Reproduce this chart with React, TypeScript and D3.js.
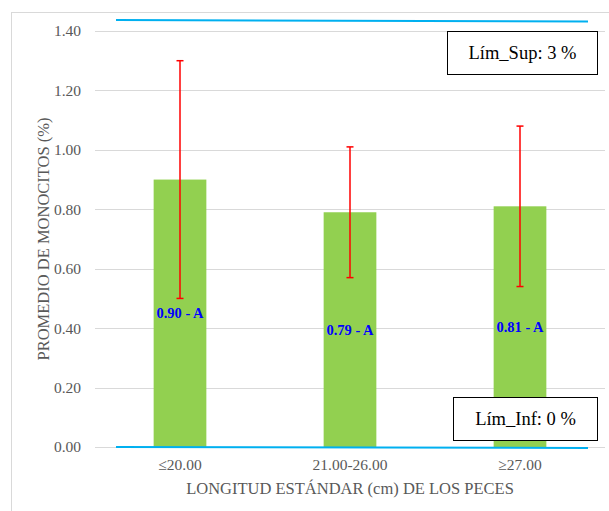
import React from "react";
import * as d3 from "d3";

const categories = ["≤20.00", "21.00-26.00", "≥27.00"];
const means = [0.9, 0.79, 0.81];
const errLow = [0.5, 0.57, 0.54];
const errHigh = [1.3, 1.01, 1.08];
const labels = ["0.90 - A", "0.79 - A", "0.81 - A"];
const yTicks = [0, 0.2, 0.4, 0.6, 0.8, 1.0, 1.2, 1.4];
const limSupLine = [1.437, 1.432];
const limInfLine = [0.0, -0.003];
const limSupText = "Lím_Sup: 3 %";
const limInfText = "Lím_Inf: 0 %";

const W = 609;
const H = 511;
const ts: React.CSSProperties = { fontFamily: "Liberation Serif" };

export default function App() {
  const x = d3
    .scaleBand<string>()
    .domain(categories)
    .range([95, 605])
    .paddingInner(0.69)
    .paddingOuter(0.345);
  const y = d3.scaleLinear().domain([0, 1.4]).range([447, 31]);
  const bw = x.bandwidth();
  const lx0 = 116;
  const lx1 = 588;

  return (
    <svg width={W} height={H} style={{ position: "absolute", left: 0, top: 0, background: "#fff" }}>
      <rect x={11.5} y={12.5} width={700} height={700} fill="none" stroke="#d9d9d9" strokeWidth={1} />
      {yTicks.map((t) => (
        <g key={t}>
          <line x1={95} x2={605} y1={Math.round(y(t)) + 0.5} y2={Math.round(y(t)) + 0.5} stroke="#d9d9d9" strokeWidth={1.2} />
          <text style={ts} x={81} y={y(t)} dy="0.35em" textAnchor="end" fontSize={15.5} fill="#595959">
            {t.toFixed(2)}
          </text>
        </g>
      ))}
      {categories.map((c, i) => (
        <rect key={c} x={x(c)} y={y(means[i])} width={bw} height={y(0) - y(means[i])} fill="#92d050" />
      ))}
      {categories.map((c, i) => {
        const cx = (x(c) as number) + bw / 2;
        return (
          <g key={c} stroke="#ff0000" strokeWidth={1.5}>
            <line x1={cx} x2={cx} y1={y(errHigh[i])} y2={y(errLow[i])} />
            <line x1={cx - 3.5} x2={cx + 3.5} y1={y(errHigh[i])} y2={y(errHigh[i])} />
            <line x1={cx - 3.5} x2={cx + 3.5} y1={y(errLow[i])} y2={y(errLow[i])} />
          </g>
        );
      })}
      {categories.map((c, i) => (
        <text
          key={c}
          style={ts}
          x={(x(c) as number) + bw / 2}
          y={y(means[i] * 0.5)}
          dy="0.35em"
          textAnchor="middle"
          fontSize={14.5}
          fontWeight="bold"
          fill="#0000ff"
        >
          {labels[i]}
        </text>
      ))}
      <line x1={lx0} x2={lx1} y1={y(limSupLine[0])} y2={y(limSupLine[1])} stroke="#00b0f0" strokeWidth={2} />
      <line x1={lx0} x2={lx1} y1={y(limInfLine[0])} y2={y(limInfLine[1])} stroke="#00b0f0" strokeWidth={2} />
      <rect x={447.5} y={31.5} width={150} height={43} fill="#fff" stroke="#000" strokeWidth={1} />
      <text style={ts} x={522.5} y={53} dy="0.35em" textAnchor="middle" fontSize={18.5} fill="#000">
        {limSupText}
      </text>
      <rect x={453.5} y={397.5} width={144} height={43} fill="#fff" stroke="#000" strokeWidth={1} />
      <text style={ts} x={525.5} y={419} dy="0.35em" textAnchor="middle" fontSize={18.5} fill="#000">
        {limInfText}
      </text>
      {categories.map((c) => (
        <text style={ts} key={c} x={(x(c) as number) + bw / 2} y={465} dy="0.35em" textAnchor="middle" fontSize={15.5} fill="#595959">
          {c}
        </text>
      ))}
      <text style={ts} x={350} y={488} dy="0.35em" textAnchor="middle" fontSize={16.5} fill="#595959">
        LONGITUD ESTÁNDAR (cm) DE LOS PECES
      </text>
      <text
        style={ts}
        transform={`translate(43, ${(y(0) + y(1.4)) / 2}) rotate(-90)`}
        dy="0.35em"
        textAnchor="middle"
        fontSize={16.5}
        fill="#595959"
      >
        PROMEDIO DE MONOCITOS (%)
      </text>
    </svg>
  );
}
